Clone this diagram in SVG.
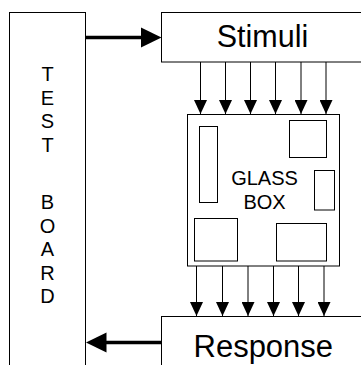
<svg xmlns="http://www.w3.org/2000/svg" width="361" height="365" viewBox="0 0 361 365">
<defs>
<style>
.box{fill:#fff;stroke:#000;stroke-width:1}
.inner{fill:none;stroke:#000;stroke-width:1}
.t{font-family:"Liberation Sans",Arial,sans-serif;fill:#000;text-anchor:middle}
.thin{stroke:#000;stroke-width:1;fill:none}
.thick{stroke:#000;stroke-width:3.5;fill:none}
.head{fill:#000;stroke:none}
</style>
<marker id="sm" viewBox="0 0 14 13" refX="14" refY="6.5" markerWidth="14" markerHeight="13" markerUnits="userSpaceOnUse" orient="auto">
<path class="head" d="M0,0 L14,6.5 L0,13 Z"/>
</marker>
</defs>
<rect width="361" height="365" fill="#fff"/>
<g id="test-board">
<rect class="box" x="9.5" y="12.5" width="76" height="370"/>
<g class="t" font-size="20">
<text x="47.5" y="81">T</text>
<text x="47.5" y="104.5">E</text>
<text x="47.5" y="128">S</text>
<text x="47.5" y="152">T</text>
<text x="47.5" y="209">B</text>
<text x="47.5" y="232.5">O</text>
<text x="47.5" y="256">A</text>
<text x="47.5" y="280">R</text>
<text x="47.5" y="303">D</text>
</g>
</g>
<g id="stimuli">
<rect class="box" x="161.5" y="12.5" width="210" height="49.5"/>
<text class="t" x="262.5" y="47" font-size="30.5">Stimuli</text>
</g>
<g id="glass-box">
<rect class="box" x="187.5" y="114.5" width="152" height="151.5"/>
<rect class="inner" x="199.5" y="126.5" width="18" height="76"/>
<rect class="inner" x="289.5" y="120.5" width="37" height="37"/>
<rect class="inner" x="314.5" y="170.5" width="20" height="39.5"/>
<rect class="inner" x="194.5" y="218.5" width="43" height="42.5"/>
<rect class="inner" x="276.5" y="223.5" width="50" height="37.5"/>
<text class="t" x="264.5" y="185" font-size="20">GLASS</text>
<text class="t" x="264.5" y="208.5" font-size="20">BOX</text>
</g>
<g id="response">
<rect class="box" x="161.5" y="316.5" width="210" height="60"/>
<text class="t" x="263.3" y="356.5" font-size="31">Response</text>
</g>
<g id="connectors">
<line class="thick" x1="86" y1="37.5" x2="142" y2="37.5"/>
<path class="head" d="M141,27.5 L161.5,37.5 L141,47.5 Z"/>
<line class="thick" x1="161" y1="342.5" x2="105" y2="342.5"/>
<path class="head" d="M106.5,332.5 L86,342.5 L106.5,352.5 Z"/>
<g class="thin">
<line x1="200.5" y1="62" x2="200.5" y2="114" marker-end="url(#sm)"/>
<line x1="225.5" y1="62" x2="225.5" y2="114" marker-end="url(#sm)"/>
<line x1="250.5" y1="62" x2="250.5" y2="114" marker-end="url(#sm)"/>
<line x1="275.5" y1="62" x2="275.5" y2="114" marker-end="url(#sm)"/>
<line x1="301" y1="62" x2="301" y2="114" marker-end="url(#sm)"/>
<line x1="326" y1="62" x2="326" y2="114" marker-end="url(#sm)"/>
<line x1="196.5" y1="266" x2="196.5" y2="316" marker-end="url(#sm)"/>
<line x1="222.5" y1="266" x2="222.5" y2="316" marker-end="url(#sm)"/>
<line x1="248" y1="266" x2="248" y2="316" marker-end="url(#sm)"/>
<line x1="273.5" y1="266" x2="273.5" y2="316" marker-end="url(#sm)"/>
<line x1="298.5" y1="266" x2="298.5" y2="316" marker-end="url(#sm)"/>
<line x1="324" y1="266" x2="324" y2="316" marker-end="url(#sm)"/>
</g>
</g>
</svg>
